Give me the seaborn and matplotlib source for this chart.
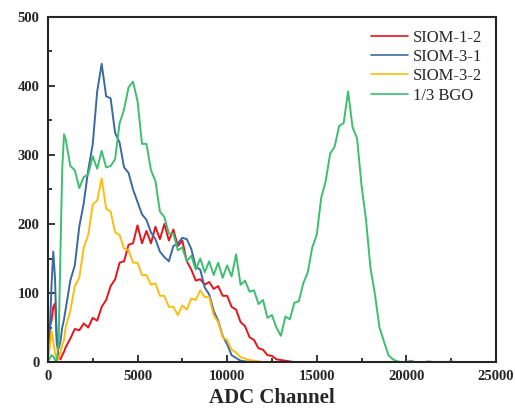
import numpy as np
import pandas as pd
import matplotlib
matplotlib.use("Agg")
import matplotlib.pyplot as plt
import seaborn as sns
from matplotlib.ticker import MultipleLocator

# =====================================
# DATA
# =====================================

# fine steps near the origin, then every 250 channels
channel = np.concatenate([np.arange(0, 1000, 100), np.arange(1000, 25001, 250)])

siom_1_2 = [
    10, 50, 60, 80, 85, 30, 8, 4, 10, 15,
    22, 34, 48, 46, 56, 50, 64, 60,
    80, 90, 110, 120, 144, 146, 170, 172,
    198, 172, 190, 172, 196, 178, 200, 176,
    192, 168, 176, 146, 134, 118, 120, 112,
    116, 106, 110, 96, 96, 80, 76, 58,
    52, 36, 32, 20, 18, 10, 9, 4,
    3, 2, 1, 0, 0, 0, 0, 0,
    0, 0, 0, 0, 0, 0, 0, 0,
    0, 0, 0, 0, 0, 0, 0, 0,
    0, 0, 0, 0, 0, 0, 0, 0,
    0, 0, 0, 0, 0, 0, 0, 0,
    0, 0, 0, 0, 0, 0, 0, 0,
    0,
]

siom_3_1 = [
    5, 40, 110, 160, 120, 25, 20, 30, 50, 62,
    78, 118, 140, 196, 230, 278, 315, 392,
    432, 385, 382, 332, 318, 282, 274, 250,
    232, 214, 206, 188, 178, 160, 152, 146,
    168, 172, 180, 178, 164, 138, 134, 108,
    98, 74, 60, 38, 26, 10, 6, 2,
    1, 0, 0, 0, 0, 0, 0, 0,
    0, 0, 0, 0, 0, 0, 0, 0,
    0, 0, 0, 0, 0, 0, 0, 0,
    0, 0, 0, 0, 0, 0, 0, 0,
    0, 0, 0, 0, 0, 0, 0, 0,
    0, 0, 0, 0, 0, 0, 0, 0,
    0, 0, 0, 0, 0, 0, 0, 0,
    0,
]

siom_3_2 = [
    5, 20, 45, 30, 12, 3, 5, 15, 25, 32,
    52, 74, 110, 122, 166, 184, 228, 234,
    266, 222, 218, 188, 184, 164, 162, 144,
    144, 126, 126, 112, 114, 96, 96, 80,
    80, 68, 82, 76, 92, 90, 104, 94,
    94, 68, 58, 36, 32, 18, 14, 7,
    5, 3, 2, 1, 0, 0, 0, 0,
    0, 0, 0, 0, 0, 0, 0, 0,
    0, 0, 0, 0, 0, 0, 0, 0,
    0, 0, 0, 0, 0, 0, 0, 0,
    0, 0, 0, 0, 0, 0, 0, 0,
    0, 0, 0, 0, 0, 0, 0, 0,
    0, 0, 0, 0, 0, 0, 0, 0,
    0,
]

bgo_third = [
    2, 5, 10, 8, 3, 2, 30, 160, 280, 330,
    322, 284, 278, 252, 268, 272, 298, 280,
    306, 282, 284, 294, 346, 366, 398, 406,
    378, 316, 316, 278, 262, 218, 210, 186,
    186, 162, 166, 146, 154, 134, 150, 130,
    146, 126, 144, 122, 140, 124, 156, 112,
    118, 102, 104, 84, 90, 64, 68, 50,
    38, 66, 62, 86, 88, 114, 130, 166,
    184, 238, 262, 302, 312, 342, 346, 392,
    340, 324, 256, 206, 136, 98, 50, 30,
    10, 4, 1, 0, 0, 2, 0, 0,
    0, 1, 0, 0, 0, 0, 1, 0,
    0, 0, 0, 0, 0, 0, 0, 0,
    0,
]

labels = ["SIOM-1-2", "SIOM-3-1", "SIOM-3-2", "1/3 BGO"]
colors = ["#e8141c", "#3a6aa3", "#fdbd10", "#3dbf6e"]

x_ticks = [0, 5000, 10000, 15000, 20000, 25000]
y_ticks = [0, 100, 200, 300, 400, 500]


def build_frame():
    frames = []
    for name, vals in zip(labels, [siom_1_2, siom_3_1, siom_3_2, bgo_third]):
        frames.append(pd.DataFrame({"channel": channel, "counts": vals, "sample": name}))
    return pd.concat(frames, ignore_index=True)


def main():
    sns.set_style("ticks")
    plt.rcParams["font.family"] = ["Liberation Serif", "DejaVu Serif"]

    df = build_frame()

    fig = plt.figure(figsize=(5.15, 4.11), dpi=100)
    ax = fig.add_axes([0.093, 0.119, 0.870, 0.840])

    sns.lineplot(data=df, x="channel", y="counts", hue="sample",
                 palette=dict(zip(labels, colors)), hue_order=labels,
                 linewidth=1.4, ax=ax, sort=False)

    ax.set_xlim(0, 25000)
    ax.set_ylim(0, 500)
    ax.set_xticks(x_ticks)
    ax.set_yticks(y_ticks)
    ax.xaxis.set_minor_locator(MultipleLocator(2500))
    ax.yaxis.set_minor_locator(MultipleLocator(50))
    ax.tick_params(which="both", direction="in", width=1.3)
    ax.tick_params(which="major", length=5, labelsize=10.5, pad=6)
    ax.tick_params(which="minor", length=3)
    for lab in ax.get_xticklabels() + ax.get_yticklabels():
        lab.set_fontweight("bold")
    for sp in ax.spines.values():
        sp.set_linewidth(1.5)

    ax.set_xlabel("ADC Channel", fontsize=15, fontweight="bold", labelpad=3)
    ax.set_ylabel("")

    leg = ax.legend(loc="upper right", bbox_to_anchor=(0.969, 0.963),
                    frameon=False, fontsize=12, borderaxespad=0, borderpad=0,
                    handlelength=2.2, handletextpad=0.3, labelspacing=0.2)
    for h in leg.get_lines():
        h.set_linewidth(1.2)

    fig.savefig("out.png", dpi=100)


if __name__ == "__main__":
    main()
